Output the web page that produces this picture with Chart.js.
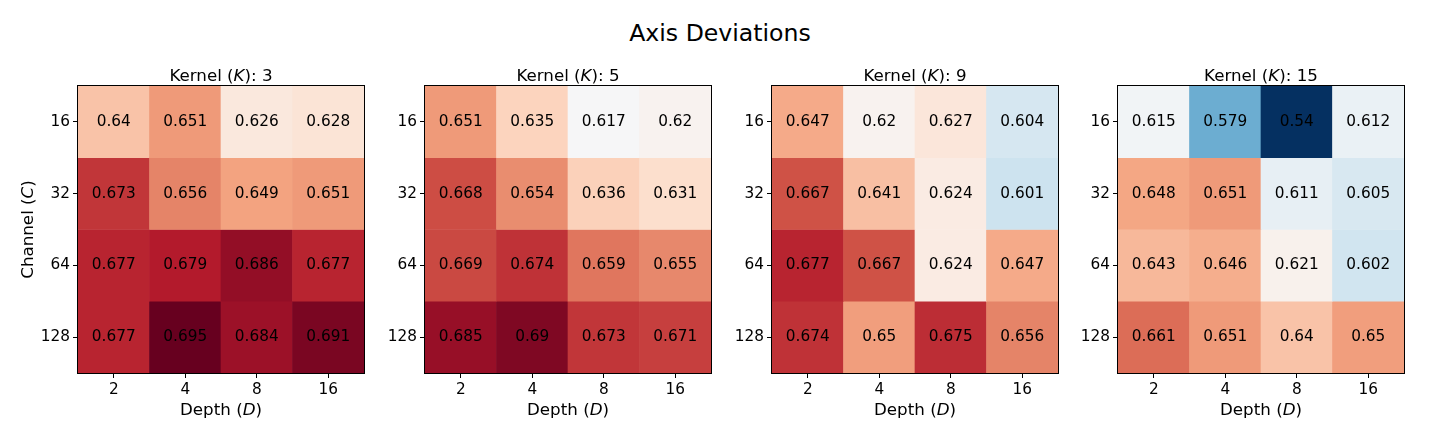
<!DOCTYPE html>
<html lang="en">
<head>
  <meta charset="UTF-8">
  <title>Axis Deviations</title>
  <script src="https://cdn.jsdelivr.net/npm/chart.js"></script>
  <style>
    body { margin: 0; width: 1440px; height: 432px; background: #fff; position: relative; overflow: hidden; font-family: 'DejaVu Sans', sans-serif; }
    #suptitle { position: absolute; left: 0; width: 1440px; top: 19px; text-align: center; font-size: 23.6px; color: #000; }
    .panel { position: absolute; top: 55px; width: 374px; height: 377px; }
  </style>
</head>
<body>
  <div id="suptitle">Axis Deviations</div>

  <script>
    // data
    const depths = ['2', '4', '8', '16'];
    const channels = ['16', '32', '64', '128'];
    const kernels = ['3', '5', '9', '15'];

    const k3 = [
      [0.64, 0.651, 0.626, 0.628],
      [0.673, 0.656, 0.649, 0.651],
      [0.677, 0.679, 0.686, 0.677],
      [0.677, 0.695, 0.684, 0.691]
    ];
    const k5 = [
      [0.651, 0.635, 0.617, 0.62],
      [0.668, 0.654, 0.636, 0.631],
      [0.669, 0.674, 0.659, 0.655],
      [0.685, 0.69, 0.673, 0.671]
    ];
    const k9 = [
      [0.647, 0.62, 0.627, 0.604],
      [0.667, 0.641, 0.624, 0.601],
      [0.677, 0.667, 0.624, 0.647],
      [0.674, 0.65, 0.675, 0.656]
    ];
    const k15 = [
      [0.615, 0.579, 0.54, 0.612],
      [0.648, 0.651, 0.611, 0.605],
      [0.643, 0.646, 0.621, 0.602],
      [0.661, 0.651, 0.64, 0.65]
    ];
    const grids = [k3, k5, k9, k15];

    // RdBu_r, shared colour range over all panels
    const rdbu = ['#053061', '#2166ac', '#4393c3', '#92c5de', '#d1e5f0', '#f7f7f7',
                  '#fddbc7', '#f4a582', '#d6604d', '#b2182b', '#67001f'];
    const all = grids.flat(2);
    const vmin = Math.min(...all), vmax = Math.max(...all);

    function hex(h) { return [1, 3, 5].map(i => parseInt(h.substr(i, 2), 16)); }
    function colorFor(v) {
      let t = (v - vmin) / (vmax - vmin);
      t = Math.max(0, Math.min(1, t)) * 10;
      const i = Math.min(9, Math.floor(t)), f = t - i;
      const a = hex(rdbu[i]), b = hex(rdbu[i + 1]);
      const c = a.map((x, k) => Math.round(x + (b[k] - x) * f));
      return 'rgb(' + c.join(',') + ')';
    }

    const FONT = "'DejaVu Sans', sans-serif";

    // text with some italic pieces, like mathtext
    function drawMixed(ctx, parts, x, y, size) {
      let w = 0;
      parts.forEach(p => {
        ctx.font = (p.i ? 'italic ' : '') + size + 'px ' + FONT;
        w += ctx.measureText(p.t).width;
      });
      let cx = x - w / 2;
      ctx.textAlign = 'left';
      parts.forEach(p => {
        ctx.font = (p.i ? 'italic ' : '') + size + 'px ' + FONT;
        ctx.fillText(p.t, cx, y);
        cx += ctx.measureText(p.t).width;
      });
    }

    const heatText = {
      id: 'heatText',
      afterDatasetsDraw(chart) {
        const { ctx, scales: { x, y } } = chart;
        const vals = chart.options.plugins.heatText.values;
        ctx.save();
        ctx.fillStyle = '#000';
        ctx.font = '15.3px ' + FONT;
        ctx.textAlign = 'center';
        ctx.textBaseline = 'middle';
        vals.forEach((row, r) => row.forEach((v, c) => {
          ctx.fillText(String(v), x.getPixelForValue(c), y.getPixelForValue(r + 0.5));
        }));
        ctx.restore();
      },
      afterDraw(chart) {
        const { ctx, chartArea: a } = chart;
        const o = chart.options.plugins.heatText;
        ctx.save();
        ctx.strokeStyle = '#000';
        ctx.lineWidth = 1;
        ctx.strokeRect(Math.round(a.left) - 0.5, Math.round(a.top) - 0.5,
                       Math.round(a.right - a.left) + 1, Math.round(a.bottom - a.top) + 1);
        ctx.fillStyle = '#000';
        ctx.textBaseline = 'alphabetic';
        const mid = (a.left + a.right) / 2;
        drawMixed(ctx, [{ t: 'Kernel (' }, { t: 'K', i: true }, { t: '): ' + o.kernel }], mid, 26, 16.7);
        drawMixed(ctx, [{ t: 'Depth (' }, { t: 'D', i: true }, { t: ')' }], mid, 360, 16.7);
        if (o.yTitle) {
          ctx.translate(33, (a.top + a.bottom) / 2);
          ctx.rotate(-Math.PI / 2);
          drawMixed(ctx, [{ t: 'Channel (' }, { t: 'C', i: true }, { t: ')' }], 0, 0, 16.7);
        }
        ctx.restore();
      }
    };

    const lefts = [77.5, 424.5, 771.5, 1118];

    grids.forEach((g, k) => {
      const div = document.createElement('div');
      div.className = 'panel';
      div.style.left = (lefts[k] - 78) + 'px';
      const cv = document.createElement('canvas');
      div.appendChild(cv);
      document.body.appendChild(div);

      const datasets = g.map((row, r) => ({
        label: channels[r],
        data: row.map(() => 1),
        backgroundColor: row.map(colorFor),
        borderWidth: 0,
        barPercentage: 1,
        categoryPercentage: 1,
        stack: 'cells'
      }));

      new Chart(cv, {
        type: 'bar',
        data: { labels: depths, datasets },
        plugins: [heatText],
        options: {
          responsive: true,
          maintainAspectRatio: false,
          animation: false,
          layout: { padding: { top: 31, right: 10, left: 0, bottom: 0 } },
          plugins: {
            legend: { display: false },
            tooltip: { enabled: false },
            heatText: { values: g, kernel: kernels[k], yTitle: k === 0 }
          },
          scales: {
            x: {
              stacked: true,
              afterFit(s) { s.height = 59; },
              grid: { offset: false, drawOnChartArea: false, color: '#000', tickLength: 5 },
              border: { display: false },
              ticks: { color: '#000', font: { size: 15.3, family: FONT }, padding: 3, maxRotation: 0 }
            },
            y: {
              type: 'linear',
              stacked: true,
              min: 0,
              max: 4,
              reverse: true,
              afterFit(s) { s.width = 78; },
              afterBuildTicks(s) { s.ticks = [0.5, 1.5, 2.5, 3.5].map(v => ({ value: v })); },
              grid: { drawOnChartArea: false, color: '#000', tickLength: 5 },
              border: { display: false },
              ticks: {
                color: '#000',
                font: { size: 15.3, family: FONT },
                padding: 3,
                callback: (v) => channels[Math.floor(v)]
              }
            }
          }
        }
      });
    });
  </script>
</body>
</html>
